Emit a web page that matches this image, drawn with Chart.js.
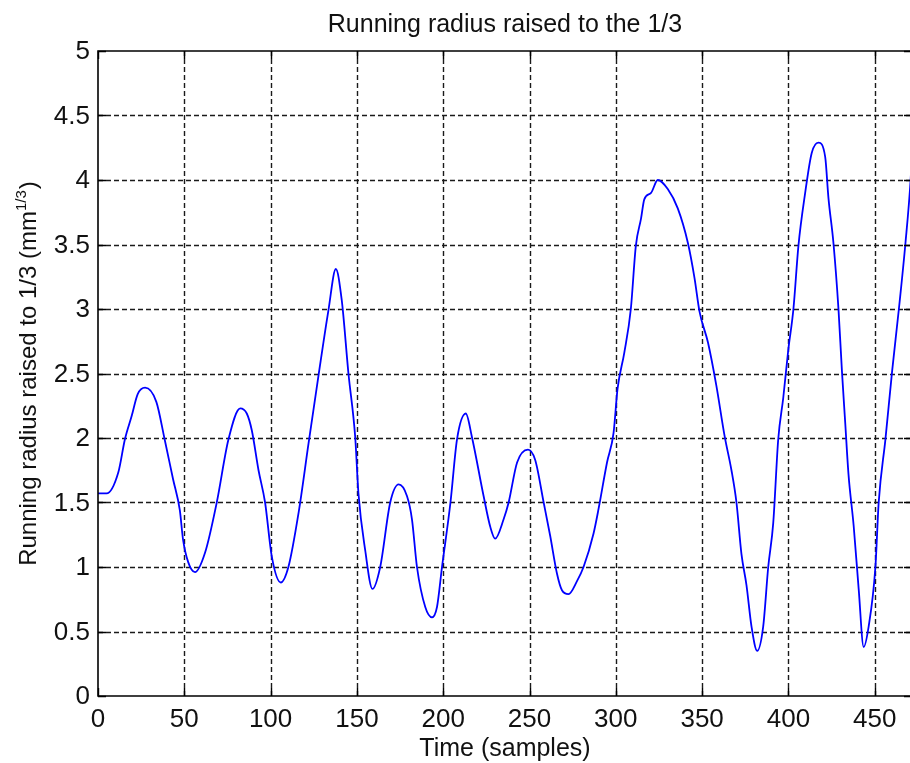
<!DOCTYPE html>
<html>
<head>
<meta charset="utf-8">
<script src="https://cdn.jsdelivr.net/npm/chart.js@4/dist/chart.umd.min.js"></script>
<style>
  html, body { margin: 0; padding: 0; background: #fff; overflow: hidden; }
  canvas { display: block; }
</style>
</head>
<body>
<canvas id="chart" width="914" height="763"></canvas>
<script>
// Sample index (time, in samples)
const sampleIdx = [
  0, 5, 11.7, 15.6, 19.5, 23, 27.3, 33.8, 38.6, 43.5, 47.4, 49.3, 52.2, 56.2, 62,
  68.8, 75.6, 82.4, 86.2, 89.1, 93, 96.8, 100.7, 105.9, 110.3, 116.2, 122, 127.7,
  133.5, 137.8, 141.2, 145.1, 149, 150.9, 154.8, 159, 163.5, 169.3, 174.2, 179,
  181.9, 184.8, 189.6, 193.5, 196.4, 199.3, 204.2, 208, 213.1, 216.6, 223.4, 227.3,
  230.1, 235, 237.9, 242.8, 249.1, 253.3, 258.2, 262, 265.9, 268.8, 272.6, 277.5,
  281.3, 287.1, 290, 294.9, 298.7, 301, 304.9, 308.7, 311.6, 314.6, 316.5, 320.4,
  324.3, 330.1, 335.9, 341.8, 345.6, 348.5, 353.4, 358.2, 363.1, 367, 369.9, 372.8,
  375.7, 378.6, 381.9, 385.4, 388.3, 391.2, 394.1, 397, 399.9, 402.9, 405.8, 409.6,
  413.5, 417.4, 421.3, 423.2, 426.1, 429, 431, 432.9, 434.8, 437.8, 440.7, 443.6,
  446.5, 450.4, 452.3, 456.2, 460.1, 464, 467.8, 470.8, 471.6
];

// Running radius raised to the 1/3 (mm^(1/3))
const radiusCbrt = [
  1.57, 1.57, 1.73, 1.99, 2.17, 2.34, 2.39, 2.28, 1.99, 1.68, 1.44, 1.21, 1.04, 0.96, 1.11,
  1.50, 1.99, 2.23, 2.19, 2.06, 1.75, 1.50, 1.08, 0.88, 1.00, 1.42, 1.96, 2.48,
  2.99, 3.31, 3.07, 2.50, 2.01, 1.57, 1.13, 0.83, 1.00, 1.50, 1.64, 1.55,
  1.37, 1.00, 0.69, 0.61, 0.69, 1.00, 1.50, 1.99, 2.19, 2.01, 1.55, 1.31,
  1.22, 1.37, 1.50, 1.81, 1.91, 1.83, 1.50, 1.24, 0.95, 0.82, 0.79, 0.89,
  1.00, 1.26, 1.45, 1.81, 2.04, 2.38, 2.66, 3.00, 3.49, 3.70, 3.85, 3.90,
  4.00, 3.93, 3.78, 3.51, 3.24, 2.98, 2.74, 2.41, 2.01, 1.75, 1.50, 1.10,
  0.86, 0.54, 0.35, 0.54, 1.00, 1.34, 1.99, 2.31, 2.68, 3.00, 3.49, 3.89,
  4.21, 4.29, 4.18, 3.86, 3.51, 3.00, 2.52, 2.12, 1.72, 1.32, 0.83, 0.38,
  0.54, 1.00, 1.50, 1.99, 2.52, 3.00, 3.51, 4.00, 4.21
];

const xTickValues = [0, 50, 100, 150, 200, 250, 300, 350, 400, 450];
const xTickLabels = ['0', '50', '100', '150', '200', '250', '300', '350', '400', '450'];
const yTickValues = [0, 0.5, 1, 1.5, 2, 2.5, 3, 3.5, 4, 4.5, 5];
const yTickLabels = ['0', '0.5', '1', '1.5', '2', '2.5', '3', '3.5', '4', '4.5', '5'];

const xRange = [0, 471.6];
const yRange = [0, 5];

const titleText = 'Running radius raised to the 1/3';
const xAxisLabel = 'Time (samples)';
const yAxisLabelMain = 'Running radius raised to 1/3 (mm';
const yAxisLabelSup = '1/3';
const yAxisLabelTail = ')';

const FONT = "'Liberation Sans', Arial, Helvetica, sans-serif";
const INK = '#111';

// Axes box, dashed grid, inward tick marks and all text, drawn from the chart's scales
const axesDecor = {
  id: 'axesDecor',
  beforeDatasetsDraw(chart) {
    const { ctx, chartArea: a, scales: { x, y } } = chart;
    ctx.save();
    ctx.strokeStyle = '#1a1a1a';
    ctx.lineWidth = 1.4;
    ctx.setLineDash([5, 3]);
    xTickValues.forEach(v => {
      if (v === xRange[0]) return;
      const px = Math.round(x.getPixelForValue(v)) + 0.5;
      ctx.beginPath(); ctx.moveTo(px, a.top); ctx.lineTo(px, a.bottom); ctx.stroke();
    });
    yTickValues.forEach(v => {
      if (v === yRange[0] || v === yRange[1]) return;
      const py = Math.round(y.getPixelForValue(v)) + 0.5;
      ctx.beginPath(); ctx.moveTo(a.left, py); ctx.lineTo(a.right, py); ctx.stroke();
    });
    ctx.restore();
  },
  afterDatasetsDraw(chart) {
    const { ctx, chartArea: a, scales: { x, y } } = chart;
    const tickLen = 8;
    ctx.save();
    ctx.setLineDash([]);
    ctx.strokeStyle = '#000';
    ctx.lineWidth = 1.6;
    // box
    ctx.beginPath();
    ctx.moveTo(a.left, a.top); ctx.lineTo(a.right, a.top);
    ctx.lineTo(a.right, a.bottom); ctx.lineTo(a.left, a.bottom);
    ctx.closePath();
    ctx.stroke();
    // inward tick marks
    ctx.lineWidth = 1.4;
    xTickValues.forEach(v => {
      const px = Math.round(x.getPixelForValue(v)) + 0.5;
      ctx.beginPath();
      ctx.moveTo(px, a.bottom); ctx.lineTo(px, a.bottom - tickLen);
      ctx.moveTo(px, a.top); ctx.lineTo(px, a.top + tickLen);
      ctx.stroke();
    });
    yTickValues.forEach(v => {
      const py = Math.round(y.getPixelForValue(v)) + 0.5;
      ctx.beginPath();
      ctx.moveTo(a.left, py); ctx.lineTo(a.left + tickLen, py);
      ctx.moveTo(a.right, py); ctx.lineTo(a.right - tickLen, py);
      ctx.stroke();
    });

    // tick labels
    ctx.fillStyle = INK;
    ctx.font = `26px ${FONT}`;
    ctx.textAlign = 'center';
    ctx.textBaseline = 'alphabetic';
    xTickValues.forEach((v, i) => {
      ctx.fillText(xTickLabels[i], x.getPixelForValue(v), a.bottom + 31);
    });
    ctx.textAlign = 'right';
    ctx.textBaseline = 'middle';
    yTickValues.forEach((v, i) => {
      ctx.fillText(yTickLabels[i], a.left - 8, y.getPixelForValue(v) + 1);
    });

    // title and x label
    const cx = (a.left + a.right) / 2;
    ctx.font = `25px ${FONT}`;
    ctx.textAlign = 'center';
    ctx.textBaseline = 'alphabetic';
    ctx.fillText(titleText, cx, 32);
    ctx.fillText(xAxisLabel, cx, a.bottom + 60);

    // rotated y label with superscript exponent
    const mainFont = `24px ${FONT}`;
    const supFont = `15px ${FONT}`;
    ctx.font = mainFont;
    const wMain = ctx.measureText(yAxisLabelMain).width;
    const wTail = ctx.measureText(yAxisLabelTail).width;
    ctx.font = supFont;
    const wSup = ctx.measureText(yAxisLabelSup).width;
    const total = wMain + wSup + 1 + wTail;
    ctx.translate(36, (a.top + a.bottom) / 2);
    ctx.rotate(-Math.PI / 2);
    ctx.textAlign = 'left';
    ctx.textBaseline = 'alphabetic';
    let pos = -total / 2;
    ctx.font = mainFont;
    ctx.fillText(yAxisLabelMain, pos, 0);
    pos += wMain;
    ctx.font = supFont;
    ctx.fillText(yAxisLabelSup, pos, -10);
    pos += wSup + 1;
    ctx.font = mainFont;
    ctx.fillText(yAxisLabelTail, pos, 0);
    ctx.restore();
  }
};

new Chart(document.getElementById('chart'), {
  type: 'line',
  data: {
    datasets: [{
      data: sampleIdx.map((s, i) => ({ x: s, y: radiusCbrt[i] })),
      borderColor: '#0000ff',
      borderWidth: 1.8,
      pointRadius: 0,
      fill: false,
      cubicInterpolationMode: 'monotone'
    }]
  },
  options: {
    responsive: false,
    animation: false,
    devicePixelRatio: 1,
    layout: { padding: { left: 98, top: 51, right: 2, bottom: 67 } },
    plugins: { legend: { display: false }, tooltip: { enabled: false }, title: { display: false } },
    scales: {
      x: { type: 'linear', display: false, min: xRange[0], max: xRange[1] },
      y: { type: 'linear', display: false, min: yRange[0], max: yRange[1] }
    }
  },
  plugins: [axesDecor]
});
</script>
</body>
</html>
